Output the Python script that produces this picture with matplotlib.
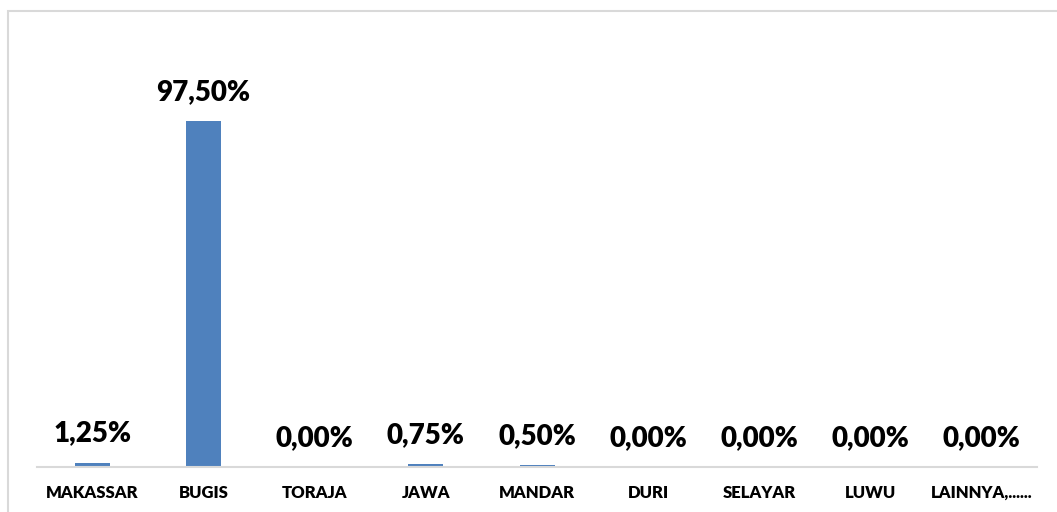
import matplotlib.pyplot as plt
from matplotlib.patches import Rectangle

# Suku / ethnic group share
categories = ['MAKASSAR', 'BUGIS', 'TORAJA', 'JAWA', 'MANDAR', 'DURI',
              'SELAYAR', 'LUWU', 'LAINNYA,......']
values = [1.25, 97.50, 0.00, 0.75, 0.50, 0.00, 0.00, 0.00, 0.00]

plt.rcParams['font.family'] = ['Lato', 'DejaVu Sans']

fig = plt.figure(figsize=(10.57, 5.12), dpi=100)
ax = fig.add_axes([37 / 1057, 1 - 467 / 512, 1000 / 1057, 427 / 512])

x = range(len(categories))
bars = ax.bar(x, values, width=0.315, color='#4F81BD')

# data labels above each bar
for rect, v in zip(bars, values):
    label = f'{v:.2f}%'.replace('.', ',')
    ax.annotate(label, (rect.get_x() + rect.get_width() / 2, rect.get_height()),
                xytext=(0, 21), textcoords='offset pixels',
                ha='center', va='baseline', fontsize=20, fontweight='heavy')

ax.set_xlim(-0.5, len(categories) - 0.5)
ax.set_ylim(0, 97.5 * 427 / 346)
ax.set_xticks(list(x))
ax.set_xticklabels(categories, fontsize=12, fontweight='heavy')
ax.tick_params(axis='x', length=0, pad=13)
ax.set_yticks([])

for side in ['top', 'right', 'left']:
    ax.spines[side].set_visible(False)
ax.spines['bottom'].set_color('#d9d9d9')
ax.spines['bottom'].set_linewidth(1.5)

# chart area frame
fig.patches.append(Rectangle((8 / 1057, -0.1), 1.2, 1 - 11 / 512 + 0.1,
                             transform=fig.transFigure, fill=False,
                             edgecolor='#d9d9d9', linewidth=1.5))

plt.savefig('out.png', dpi=100)
